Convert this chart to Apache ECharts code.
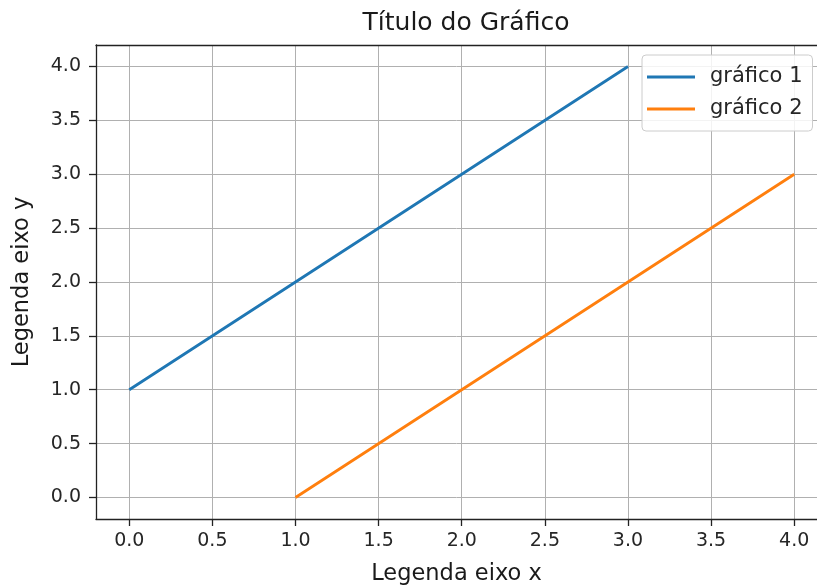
<!DOCTYPE html>
<html>
<head>
<meta charset="utf-8">
<script src="https://cdn.jsdelivr.net/npm/echarts@6/dist/echarts.min.js"></script>
<style>
  html, body { margin: 0; padding: 0; background: #fff; }
  #chart { width: 817px; height: 588px; }
</style>
</head>
<body>
<div id="chart"></div>
<script>
// dados das duas retas
var x1 = [0, 1, 2, 3];
var y1 = [1, 2, 3, 4];
var x2 = [1, 2, 3, 4];
var y2 = [0, 1, 2, 3];
var nomes = ['gráfico 1', 'gráfico 2'];
var ticks = [0, 0.5, 1, 1.5, 2, 2.5, 3, 3.5, 4];

function pares(xs, ys) {
    var res = [];
    for (var i = 0; i < xs.length; i++) {
        res.push([xs[i], ys[i]]);
    }
    return res;
}

var fonte = 'DejaVu Sans';
var myChart = echarts.init(document.getElementById('chart'));

function eixo(nome, gap, rot, max, margem) {
    return {
        type: 'value',
        min: -0.2,
        max: max,
        name: nome,
        nameLocation: 'middle',
        nameGap: gap,
        nameRotate: rot,
        nameTextStyle: { fontFamily: fonte, fontSize: 22.5, color: '#1a1a1a' },
        axisLine: { show: true, onZero: false, lineStyle: { color: '#222', width: 1.3 } },
        axisTick: { show: true, inside: false, length: 7, customValues: ticks,
            lineStyle: { color: '#222', width: 1.3 } },
        axisLabel: { customValues: ticks, margin: margem, fontFamily: fonte, fontSize: 19, color: '#262626',
            formatter: function (v) { return v.toFixed(1); } },
        splitLine: { show: true, lineStyle: { color: '#b0b0b0', width: 1 } }
    };
}

var eixoX = eixo('Legenda eixo x', 44, 0, 4.137, 13);
// linha de cima (moldura)
var eixoTopo = {
    type: 'value', min: -0.2, max: 4.137, position: 'top',
    axisLine: { show: true, onZero: false, lineStyle: { color: '#222', width: 1.3 } },
    axisTick: { show: false }, axisLabel: { show: false }, splitLine: { show: false }
};

var option = {
    animation: false,
    title: {
        text: 'Título do Gráfico',
        left: 461, top: 6, textAlign: 'center',
        textStyle: { fontFamily: fonte, fontSize: 25, fontWeight: 'normal', color: '#1a1a1a' }
    },
    legend: {
        data: nomes,
        orient: 'vertical',
        left: 642, top: 55,
        icon: 'rect',
        itemWidth: 48, itemHeight: 3,
        itemGap: 10,
        padding: [11, 10, 11, 5],
        borderColor: '#cccccc', borderWidth: 1, borderRadius: 4,
        backgroundColor: 'rgba(255,255,255,0.85)',
        textStyle: { fontFamily: fonte, fontSize: 21, color: '#262626', lineHeight: 22, padding: [0, 0, 0, 10] }
    },
    grid: {
        left: 96, top: 45, right: 0, bottom: 69,
        outerBoundsMode: 'none', containLabel: false
    },
    xAxis: [eixoX, eixoTopo],
    yAxis: eixo('Legenda eixo y', 62, 90, 4.2, 15),
    series: [{
        name: nomes[0],
        type: 'line',
        data: pares(x1, y1),
        showSymbol: false,
        color: '#1f77b4',
        lineStyle: { width: 2.8 }
    }, {
        name: nomes[1],
        type: 'line',
        data: pares(x2, y2),
        showSymbol: false,
        color: '#ff7f0e',
        lineStyle: { width: 2.8 }
    }]
};

myChart.setOption(option);
</script>
</body>
</html>
